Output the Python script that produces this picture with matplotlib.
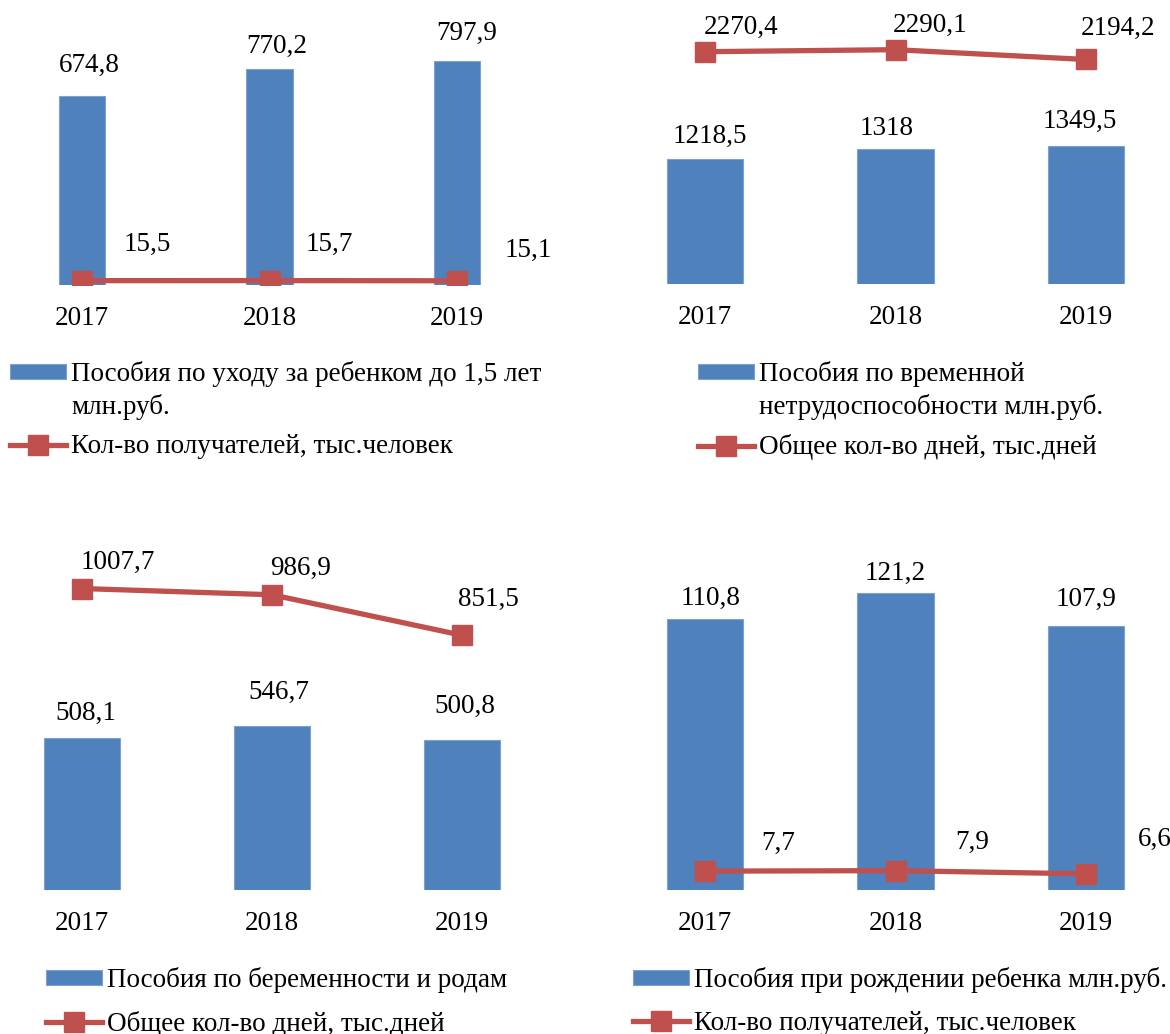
import matplotlib
matplotlib.use('Agg')
import matplotlib.pyplot as plt

plt.rcParams['font.family'] = ['Liberation Serif', 'DejaVu Serif']

# ---------------- data ----------------
years = ['2017', '2018', '2019']

care_bars = [674.8, 770.2, 797.9]
care_line = [15.5, 15.7, 15.1]
care_bar_name = 'Пособия по уходу за ребенком до 1,5 лет'
care_bar_name2 = 'млн.руб.'
care_line_name = 'Кол-во получателей, тыс.человек'

sick_bars = [1218.5, 1318, 1349.5]
sick_line = [2270.4, 2290.1, 2194.2]
sick_bar_name = 'Пособия по временной'
sick_bar_name2 = 'нетрудоспособности млн.руб.'
sick_line_name = 'Общее кол-во дней, тыс.дней'

mat_bars = [508.1, 546.7, 500.8]
mat_line = [1007.7, 986.9, 851.5]
mat_bar_name = 'Пособия по беременности и родам'
mat_line_name = 'Общее кол-во дней, тыс.дней'

birth_bars = [110.8, 121.2, 107.9]
birth_line = [7.7, 7.9, 6.6]
birth_bar_name = 'Пособия при рождении ребенка млн.руб.'
birth_line_name = 'Кол-во получателей, тыс.человек'

# ---------------- style / layout ----------------
W, H, DPI = 1170, 1034, 100
PX = 72.0 / DPI          # points per pixel
FS = 19.5
BLUE = '#4F81BD'
RED = '#C0504D'

fig = plt.figure(figsize=(W / DPI, H / DPI), dpi=DPI)


def fmt(v):
    return f'{v:g}'.replace('.', ',')


def make_panel(rect, ymax, bars, line, bar_w, bar_off, line_off,
               bar_name, line_name, leg_xy, leg_spacing, second_line=None):
    left, top, right, bottom = rect
    ax = fig.add_axes([left / W, 1 - bottom / H, (right - left) / W, (bottom - top) / H])
    x = list(range(len(years)))
    bc = ax.bar(x, bars, width=bar_w, color=BLUE, edgecolor='#7EA2CF', linewidth=0.8,
                label=bar_name, zorder=2)
    ln, = ax.plot(x, line, color=RED, lw=3.8, marker='s', markersize=14.5,
                  markerfacecolor=RED, markeredgecolor=RED, label=line_name, zorder=3)
    ax.set_xlim(-0.3, 2.3)
    ax.set_ylim(0, ymax)
    ax.set_xticks(x, years)
    ax.set_yticks([])
    ax.tick_params(axis='x', length=0, pad=15, labelsize=FS)
    for s in ax.spines.values():
        s.set_visible(False)
    for xi, v, (dx, dy) in zip(x, bars, bar_off):
        ax.annotate(fmt(v), (xi, v), xytext=(dx * PX, dy * PX), textcoords='offset points',
                    ha='center', va='center', fontsize=FS)
    for xi, v, (dx, dy) in zip(x, line, line_off):
        ax.annotate(fmt(v), (xi, v), xytext=(dx * PX, dy * PX), textcoords='offset points',
                    ha='center', va='center', fontsize=FS)
    lx, ly = leg_xy
    leg = ax.legend(handles=[bc, ln], loc='upper left',
                    bbox_to_anchor=(lx / W, 1 - ly / H), bbox_transform=fig.transFigure,
                    frameon=False, fontsize=FS, borderpad=0, borderaxespad=0,
                    handlelength=2.05, handleheight=0.45, handletextpad=0.2,
                    labelspacing=leg_spacing)
    return ax, leg, second_line


panels = []
panels.append(make_panel((25.75, 32.4, 513.25, 285), 900, care_bars, care_line, 0.25,
                         [(7, 30), (7, 22), (10, 28)], [(65, 36), (60, 36), (71, 30)],
                         care_bar_name, care_line_name, (10, 361), 1.75, care_bar_name2))
panels.append(make_panel((648, 28.2, 1143, 284), 2500, sick_bars, sick_line, 0.4,
                         [(5, 23), (-9, 21), (-6, 25)], [(36, 24), (35, 24), (32, 31)],
                         sick_bar_name, sick_line_name, (698, 361), 1.75, sick_bar_name2))
panels.append(make_panel((25, 531, 519, 890), 1200, mat_bars, mat_line, 0.4,
                         [(4, 25), (7, 34), (3, 34)], [(36, 26), (29, 26), (26, 36)],
                         mat_bar_name, mat_line_name, (46, 967), 0.65))
panels.append(make_panel((648, 547, 1143, 890), 140, birth_bars, birth_line, 0.4,
                         [(5, 20), (0, 20), (0, 26)], [(73, 28), (77, 28), (69, 34)],
                         birth_bar_name, birth_line_name, (633, 967), 0.65))

fig.canvas.draw()
for ax, leg, second in panels:
    if second:
        bb = leg.get_texts()[0].get_window_extent()
        fig.text(bb.x0 / W, (bb.y0 - 33 + bb.height / 2) / H, second,
                 ha='left', va='center', fontsize=FS)

fig.savefig('out.png', dpi=DPI)
